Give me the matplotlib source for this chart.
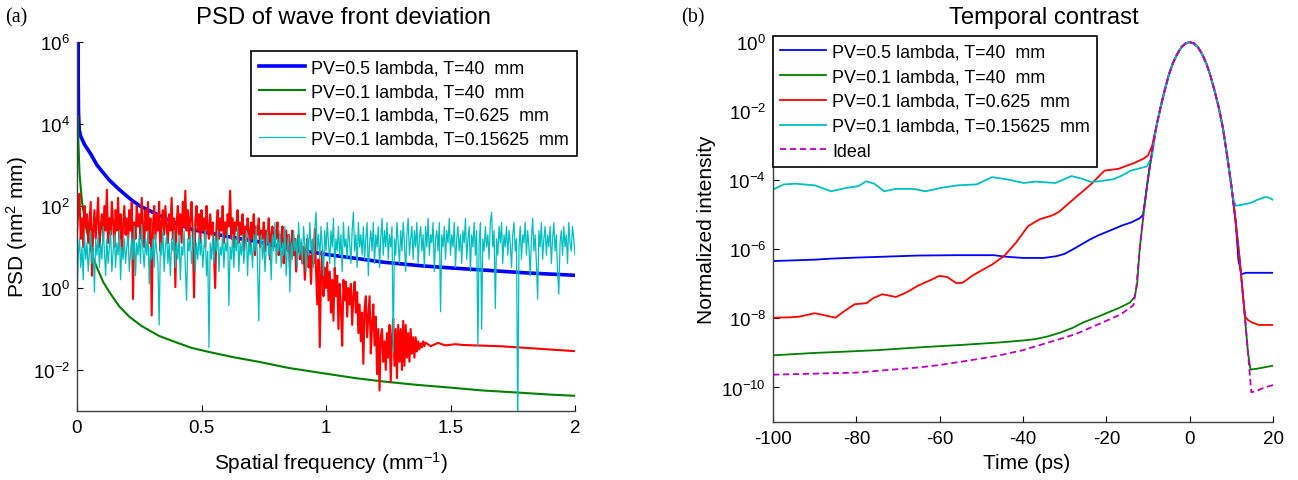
import numpy as np
import matplotlib
matplotlib.use("Agg")
import matplotlib.pyplot as plt
from matplotlib.ticker import LogFormatterMathtext, NullLocator

plt.rcParams["font.family"] = ["Liberation Sans", "DejaVu Sans"]
plt.rcParams["mathtext.fontset"] = "custom"
plt.rcParams["mathtext.rm"] = "Liberation Sans"
plt.rcParams["mathtext.it"] = "Liberation Sans:italic"
plt.rcParams["mathtext.bf"] = "Liberation Sans:bold"
plt.rcParams["axes.unicode_minus"] = False

BLUE = (0, 0, 1)
GREEN = (0, 0.5, 0)
RED = (1, 0, 0)
CYAN = (0, 0.75, 0.75)
MAGENTA = (0.75, 0, 0.75)

LABELS = [
    "PV=0.5 lambda, T=40  mm",
    "PV=0.1 lambda, T=40  mm",
    "PV=0.1 lambda, T=0.625  mm",
    "PV=0.1 lambda, T=0.15625  mm",
]

# ---------------- (a) PSD, values as log10(PSD) ----------------
psd_blue_f = [0.0, 0.002, 0.003, 0.004, 0.006, 0.009, 0.015, 0.03, 0.054, 0.08,
              0.10, 0.13, 0.17, 0.22, 0.253, 0.30, 0.38, 0.466, 0.55, 0.61,
              0.735, 0.85, 1.0, 1.1, 1.23, 1.385, 1.5, 1.65, 1.8, 2.0]
psd_blue_log = [3.9, 5.5, 6.0, 5.6, 4.3, 3.85, 3.7, 3.5, 3.28, 3.0,
                2.85, 2.63, 2.4, 2.14, 2.0, 1.86, 1.62, 1.42, 1.32, 1.25,
                1.12, 0.97, 0.82, 0.74, 0.63, 0.54, 0.49, 0.43, 0.37, 0.31]

psd_green_f = [0.0, 0.003, 0.006, 0.01, 0.02, 0.035, 0.052, 0.064, 0.08, 0.105,
               0.13, 0.17, 0.21, 0.26, 0.33, 0.40, 0.46, 0.53, 0.63, 0.73,
               0.85, 1.0, 1.12, 1.23, 1.36, 1.5, 1.63, 1.77, 1.9, 2.0]
psd_green_log = [3.9, 4.2, 3.5, 2.8, 2.1, 1.5, 1.1, 0.75, 0.5, 0.15,
                 -0.1, -0.45, -0.7, -0.93, -1.17, -1.33, -1.46, -1.56, -1.69, -1.8,
                 -1.95, -2.09, -2.2, -2.28, -2.36, -2.43, -2.5, -2.55, -2.6, -2.63]

# noisy spectra, sampled every 0.005 mm^-1 starting at 0
psd_step = 0.005
psd_red_log = [
    1.3, 1.9, 2.3, 1.2, 1.7, 1.0, 2.0, 1.5, 1.8, 1.1,
    1.6, 2.1, 0.3, 1.4, 1.9, 1.2, 1.7, 2.2, 1.0, 1.5,
    1.8, 1.2, 2.0, 1.4, 2.4, 1.1, 1.7, 1.3, 2.1, 1.6,
    1.0, 1.9, 1.4, 2.2, 1.2, 1.8, 0.8, 1.5, 2.0, 1.3,
    1.7, 1.1, 1.9, 1.4, 2.1, -0.27, 1.6, 1.2, 2.0, 1.5,
    1.8, 1.2, 2.2, 1.5, 1.0, 1.9, 1.4, 2.1, 1.1, 1.7,
    -0.67, 1.5, 2.0, 1.2, 1.8, 1.4, 2.1, 0.9, 1.6, 1.9,
    1.3, 2.0, 1.5, 1.1, 1.8, 1.4, 2.2, 1.2, 1.7, 0.02,
    1.6, 2.0, 1.3, 1.8, 1.1, 2.1, 1.5, 2.37, 1.4, 1.9,
    1.2, 1.7, 2.1, 1.3, -0.23, 1.6, 2.0, 1.4, 1.8, 1.1,
    1.9, 1.4, 1.7, 1.0, 2.0, 1.5, 1.2, 1.8, 1.3, 1.6,
    0.8, 0.0, 1.5, 1.9, 1.2, 1.7, 1.4, 2.0, 1.1, 1.6,
    1.3, 1.8, 1.5, 2.37, 1.2, 1.7, 1.0, 1.6, 1.4, 1.9,
    1.1, 1.6, 1.3, 1.8, 0.9, 1.5, 1.2, 1.7, 1.4, 1.0,
    1.6, 1.2, 1.8, 0.8, 1.5, 1.3, 1.7, 1.0, 1.4, 1.2,
    1.6, 0.9, 1.4, 1.1, 1.7, 0.7, 1.3, 1.5, 1.0, 1.4,
    1.2, 1.6, 0.8, 1.3, 1.0, 1.5, 0.6, 1.2, 1.4, 0.9,
    1.3, 0.5, 1.1, 1.4, 0.8, 1.2, 0.4, 1.0, 1.3, 0.7,
    1.1, 0.6, 1.0, 0.2, 0.9, 1.2, 0.5, 0.8, 0.1, 1.0,
    0.6, 1.44, 0.4, -0.4, 0.7, -1.44, 0.3, 0.9, -0.2, 0.5,
    0.0, 0.63, -0.3, 0.4, -0.6, 0.2, -0.8, 0.5, -0.2, 0.3,
    -1.0, 0.1, -0.5, -1.41, 0.2, -0.3, 0.15, -0.7, 0.0, -0.4,
    0.1, -0.9, -0.2, 0.15, -0.6, -0.1, -1.1, -0.4, -1.3, -0.6,
    -1.85, -0.5, -0.2, -1.2, -0.7, -0.2, -1.6, -0.9, -0.4, -1.4,
    -0.7, -2.1, -1.0, -2.5, -1.2, -1.0, -1.8, -1.3, -2.0, -1.1,
    -1.7, -0.9, -2.3, -1.2, -0.75, -1.9, -1.0, -2.2, -0.9, -1.8,
    -1.0, -2.0, -0.8, -1.9, -0.9, -1.7, -1.1, -1.8, -1.0, -1.6,
    -1.2, -1.7, -1.2, -1.55, -1.3, -1.5, -1.35, -1.45, -1.3, -1.42,
    -1.33,
]
psd_red_tail_f = [1.42, 1.45, 1.48, 1.52, 1.55, 1.6, 1.7, 1.8, 1.9, 2.0]
psd_red_tail_log = [-1.42, -1.34, -1.40, -1.37, -1.39, -1.40, -1.42, -1.46, -1.50, -1.54]

psd_cyan_log = [
    -0.3, 0.8, 1.2, 0.5, 1.0, 0.2, 1.3, 0.7, 1.1, 0.4,
    0.9, 1.4, 0.6, 1.0, -0.1, 1.2, 0.8, 1.3, 0.5, 1.1,
    0.7, 1.5, 0.9, 0.3, 1.2, 0.6, 1.0, 1.4, 0.4, 0.9,
    1.3, 0.5, 1.1, 0.8, 1.4, 0.2, 1.0, 0.7, 1.2, 0.6,
    1.0, 1.3, 0.4, 0.9, 1.2, 0.7, 1.5, 0.3, 1.1, 0.8,
    1.3, 0.6, 1.55, 0.9, 0.5, 1.2, 0.8, 1.4, 0.1, 1.0,
    0.7, 1.2, 0.5, 1.3, 0.9, 0.6, -0.9, 1.1, 0.8, 1.4,
    0.4, 1.0, 1.3, 0.6, 1.1, 0.3, 1.2, 0.9, 1.4, 0.5,
    1.1, 0.7, 1.3, 0.2, 1.0, 0.8, 1.4, 0.5, -0.3, 1.2,
    0.9, 1.3, 0.6, 1.0, 1.5, 0.4, 1.1, 0.7, 1.3, 0.8,
    1.2, 0.5, 1.0, 1.4, 0.3, 0.9, -1.45, 1.1, 0.7, 1.3,
    0.6, 1.2, 0.9, 1.4, 0.4, 1.0, 0.8, 1.3, 0.5, 1.1,
    0.9, 1.4, -0.43, 1.0, 0.7, 1.3, 0.5, 1.2, 0.9, 1.5,
    0.4, 1.1, 0.8, 1.3, 0.6, 1.0, 1.4, 0.3, 1.2, 0.8,
    1.1, 0.5, 1.3, 0.9, 1.5, 0.6, -0.8, 1.0, 1.3, 0.7,
    1.2, 0.4, 1.0, 1.4, 0.8, 1.1, 0.2, 1.3, 0.9, 1.6,
    0.6, 1.2, 0.9, 1.4, 0.5, 1.1, 0.8, 1.5, 0.3, 1.0,
    1.3, -0.1, 1.1, 0.7, 1.4, 0.9, 1.2, 0.5, 1.6, 0.8,
    1.2, 0.6, 1.5, 1.0, 0.4, 1.3, 0.8, 1.6, 0.9, 1.2,
    0.5, 1.4, 1.85, 0.9, 1.3, 0.7, 1.5, 1.0, 0.3, 1.4,
    0.9, 1.6, 1.1, 0.6, 1.4, 1.0, 1.7, 0.5, 1.2, 0.9,
    1.5, 0.8, 1.3, 0.4, 1.6, 1.0, 1.2, 0.7, 1.5, 1.1,
    0.6, 1.4, 1.85, 0.9, 1.3, 0.5, 1.6, 1.0, 1.3, 0.8,
    1.5, 0.7, 1.2, 1.6, 0.3, 1.1, 1.4, 0.9, 1.6, 0.6,
    1.3, 1.0, 1.5, 0.5, 1.2, 1.7, 0.8, 1.4, 1.0, 1.6,
    0.7, 1.3, 1.0, 1.5, -1.56, 1.2, 0.8, 1.6, 1.1, 0.6,
    1.4, 0.9, 1.6, 1.1, 0.4, 1.3, 1.7, 0.8, 1.2, 1.5,
    0.7, 1.4, 1.0, 1.6, 0.6, 1.2, 1.5, 0.9, 1.3, 0.5,
    1.5, 1.0, 1.7, 0.8, 1.3, 1.1, 1.6, 0.4, 1.2, 1.4,
    0.9, 1.6, -0.58, 1.3, 1.0, 1.5, 0.7, 1.4, 1.1, 1.7,
    0.8, 1.3, 1.0, 1.6, 0.5, 1.2, 1.5, 0.9, 1.3, 0.6,
    1.4, 1.1, 1.7, 0.7, 1.2, 1.5, 0.4, 1.3, 1.0, 1.6,
    0.8, 1.4, -1.4, 1.1, 1.6, -1.0, 1.2, 0.9, 1.5, 1.0,
    1.3, 0.7, 1.6, 1.85, 1.0, 1.4, -0.5, 1.2, 0.8, 1.5,
    1.1, 1.6, 0.6, 1.3, 1.0, 1.5, 0.8, 1.4, 1.1, 0.5,
    1.3, 1.6, 0.9, 1.2, -3.5, 1.0, 1.5, 0.7, 1.3, 1.1,
    1.6, 0.8, 1.4, 1.0, 0.3, 1.2, 1.7, 0.9, 1.3, 0.6,
    -0.27, 1.4, 1.0, 1.6, 0.7, 1.2, 1.5, 0.8, 1.3, 1.0,
    1.5, 0.6, 1.2, 1.6, 0.9, 1.3, 0.4, -0.15, 1.1, 1.4,
    0.8, 1.5, 1.0, 1.3, 0.6, 1.6, 1.1, 0.9, 1.5, 1.2,
    0.8,
]

# ---------------- (b) temporal contrast, values as log10(I) ----------------
pulse_t = [-12, -11, -10, -9, -8, -7, -6, -5, -4, -3, -2, -1, 0,
           1, 2, 3, 4, 5, 6, 7, 8, 9, 10, 11, 12, 13, 14]
pulse_log = [-6.0, -4.9, -3.95, -3.15, -2.45, -1.9, -1.4, -0.95, -0.6, -0.35, -0.15, -0.04, 0.0,
             -0.04, -0.15, -0.35, -0.62, -0.98, -1.42, -1.9, -2.5, -3.3, -4.15, -5.15, -6.3, -7.6, -9.0]

blue_pre_t = [-100, -90, -86, -80, -70, -65, -56, -47, -44.5, -40, -35, -32, -30, -28,
              -26, -24, -22, -20, -18, -16, -14, -12, -11.2, -10.6]
blue_pre_log = [-6.34, -6.30, -6.27, -6.24, -6.20, -6.18, -6.17, -6.17, -6.21, -6.25, -6.25, -6.20, -6.13, -6.00,
                -5.86, -5.72, -5.60, -5.50, -5.40, -5.30, -5.22, -5.10, -5.0, -4.5]
blue_post_t = [11.7, 12.4, 13.5, 20]
blue_post_log = [-6.3, -6.72, -6.68, -6.68]

green_pre_t = [-100, -90, -84, -75, -65, -55, -46, -40, -37, -34, -31, -28, -25.6,
               -22, -20, -17, -14.3, -13.2, -12.6]
green_pre_log = [-9.07, -9.00, -8.97, -8.92, -8.84, -8.77, -8.70, -8.64, -8.60, -8.52, -8.41, -8.27, -8.12,
                 -7.95, -7.85, -7.70, -7.54, -7.38, -7.0]
green_post_t = [14.6, 16, 20]
green_post_log = [-9.48, -9.46, -9.37]

red_pre_t = [-100, -96, -93.7, -90, -88, -85, -83, -80.4, -77.6, -76, -73.8, -70.5, -68,
             -65.3, -62, -60.1, -58.2, -56, -54.5, -52, -47.4, -44.5, -41.7, -38.8, -36,
             -33, -31.3, -27.5, -23.7, -21.5, -20.4, -17.1, -13.3, -11, -10, -9, -8.4]
red_pre_log = [-7.98, -7.97, -7.95, -7.85, -7.90, -7.98, -7.80, -7.59, -7.56, -7.42, -7.30, -7.38, -7.25,
               -7.06, -6.88, -6.77, -6.80, -6.98, -6.97, -6.75, -6.44, -6.19, -5.81, -5.33, -5.13,
               -5.02, -4.91, -4.51, -4.12, -3.85, -3.72, -3.67, -3.50, -3.37, -3.28, -3.0, -2.65]
red_post_t = [13.3, 14, 15, 16.6, 20]
red_post_log = [-7.95, -8.05, -8.12, -8.19, -8.19]

cyan_pre_t = [-100, -97.4, -94.6, -89.9, -86.1, -82.3, -79.5, -77.6, -75.7, -73.3, -70.5,
              -66.3, -63.4, -59.6, -55.9, -51.1, -47.4, -43.6, -39.8, -37, -32.2, -28.4,
              -26, -23.7, -21, -18.3, -16, -14.3, -10.3, -9.1]
cyan_pre_log = [-4.27, -4.12, -4.10, -4.15, -4.32, -4.22, -4.17, -4.03, -4.10, -4.32, -4.25,
                -4.25, -4.32, -4.22, -4.15, -4.12, -3.91, -3.98, -4.08, -4.04, -4.08, -3.88,
                -3.95, -4.05, -4.02, -3.97, -3.85, -3.73, -3.60, -3.35]
cyan_post_t = [10, 10.6, 11.1, 13, 14.8, 16, 18, 19, 20]
cyan_post_log = [-4.2, -4.6, -4.74, -4.7, -4.65, -4.58, -4.49, -4.5, -4.57]

ideal_pre_t = [-100, -90, -80, -72, -65, -60, -53, -46, -40, -37, -32, -27.5, -24,
               -20, -16.5, -13.5, -12.8]
ideal_pre_log = [-9.63, -9.60, -9.57, -9.49, -9.42, -9.35, -9.22, -9.08, -8.92, -8.81, -8.63, -8.46, -8.28,
                 -8.07, -7.88, -7.62, -7.1]
ideal_post_t = [14.8, 16, 18, 20]
ideal_post_log = [-10.14, -10.1, -10.0, -9.93]


def with_pulse(pre_t, pre_log, t_in, t_out, post_t, post_log):
    core = [(t, v) for t, v in zip(pulse_t, pulse_log) if t_in <= t <= t_out]
    t = list(pre_t) + [c[0] for c in core] + list(post_t)
    v = list(pre_log) + [c[1] for c in core] + list(post_log)
    return np.array(t), 10.0 ** np.array(v)


def style_axes(ax):
    for side in ("top", "right"):
        ax.spines[side].set_visible(False)
    for side in ("left", "bottom"):
        ax.spines[side].set_color("#404040")
        ax.spines[side].set_linewidth(1.0)
    ax.tick_params(direction="in", length=4, width=0.8, labelsize=13.5, colors="black")
    ax.tick_params(axis="x", pad=6)
    ax.tick_params(axis="y", pad=5)
    ax.yaxis.set_minor_locator(NullLocator())
    ax.yaxis.set_major_formatter(LogFormatterMathtext())


LEG_KW = dict(borderaxespad=0, fontsize=12.9, handlelength=2.57, handletextpad=0.35,
              fancybox=False, framealpha=1, edgecolor="black")

fig = plt.figure(figsize=(12.98, 4.81), dpi=100)

# ---- (a) ----
ax1 = fig.add_axes([77 / 1298, 1 - 412 / 481, 498 / 1298, 369 / 481])
ax1.set_yscale("log")

f_red = np.concatenate([np.arange(len(psd_red_log)) * psd_step, psd_red_tail_f])
v_red = 10.0 ** np.concatenate([psd_red_log, psd_red_tail_log])
f_cyan = np.arange(len(psd_cyan_log)) * psd_step

ax1.plot(psd_blue_f, 10.0 ** np.array(psd_blue_log), color=BLUE, lw=2.6, label=LABELS[0])
ax1.plot(psd_green_f, 10.0 ** np.array(psd_green_log), color=GREEN, lw=1.5, label=LABELS[1])
ax1.plot(f_red, v_red, color=RED, lw=1.5, label=LABELS[2])
ax1.plot(f_cyan, 10.0 ** np.array(psd_cyan_log), color=CYAN, lw=0.9, label=LABELS[3])

ax1.set_xlim(0, 2)
ax1.set_ylim(1e-3, 1e6)
ax1.set_xticks([0, 0.5, 1, 1.5, 2])
ax1.set_xticklabels(["0", "0.5", "1", "1.5", "2"])
ax1.set_yticks([1e-2, 1e0, 1e2, 1e4, 1e6])
style_axes(ax1)

ax1.set_xlabel("Spatial frequency (mm$^{-1}$)", fontsize=15, va="center")
ax1.xaxis.set_label_coords(0.51, -0.138)
ax1.set_ylabel("PSD (nm$^{2}$ mm)", fontsize=15, va="center")
ax1.yaxis.set_label_coords(-0.12, 0.5)
fig.text(343 / 1298, 1 - 18 / 481, "PSD of wave front deviation", fontsize=17.2, ha="center", va="center")
fig.text(5 / 1298, 1 - 18 / 481, "(a)", fontsize=14.5, family="Liberation Serif", ha="left", va="center")

leg1 = ax1.legend(loc="upper right", bbox_to_anchor=(1.004, 0.975), labelspacing=0.38,
                  borderpad=0.45, **LEG_KW)
leg1.get_frame().set_linewidth(1.2)

# ---- (b) ----
ax2 = fig.add_axes([773 / 1298, 1 - 423 / 481, 500 / 1298, 386 / 481])
ax2.set_yscale("log")

t, v = with_pulse(blue_pre_t, blue_pre_log, -10, 11, blue_post_t, blue_post_log)
ax2.plot(t, v, color=BLUE, lw=1.3, label=LABELS[0])
t, v = with_pulse(green_pre_t, green_pre_log, -12, 14, green_post_t, green_post_log)
ax2.plot(t, v, color=GREEN, lw=1.3, label=LABELS[1])
t, v = with_pulse(red_pre_t, red_pre_log, -8, 13, red_post_t, red_post_log)
ax2.plot(t, v, color=RED, lw=1.3, label=LABELS[2])
t, v = with_pulse(cyan_pre_t, cyan_pre_log, -8, 9, cyan_post_t, cyan_post_log)
ax2.plot(t, v, color=CYAN, lw=1.3, label=LABELS[3])
t, v = with_pulse(ideal_pre_t, ideal_pre_log, -12, 14, ideal_post_t, ideal_post_log)
ax2.plot(t, v, color=MAGENTA, lw=1.3, ls=(0, (3.5, 2)), label="Ideal")

ax2.set_xlim(-100, 20)
ax2.set_ylim(1e-11, 1.5)
ax2.set_xticks([-100, -80, -60, -40, -20, 0, 20])
ax2.set_yticks([1e-10, 1e-8, 1e-6, 1e-4, 1e-2, 1e0])
style_axes(ax2)

ax2.set_xlabel("Time (ps)", fontsize=15, va="center")
ax2.xaxis.set_label_coords(0.507, -0.104)
ax2.set_ylabel("Normalized intensity", fontsize=15, va="center")
ax2.yaxis.set_label_coords(-0.132, 0.5)
fig.text(1044 / 1298, 1 - 18 / 481, "Temporal contrast", fontsize=17.2, ha="center", va="center")
fig.text(681 / 1298, 1 - 18 / 481, "(b)", fontsize=14.5, family="Liberation Serif", ha="left", va="center")

leg2 = ax2.legend(loc="upper left", bbox_to_anchor=(0, 1), labelspacing=0.44,
                  borderpad=0.4, **LEG_KW)
leg2.get_frame().set_linewidth(1.2)

fig.savefig("out.png", dpi=100)
